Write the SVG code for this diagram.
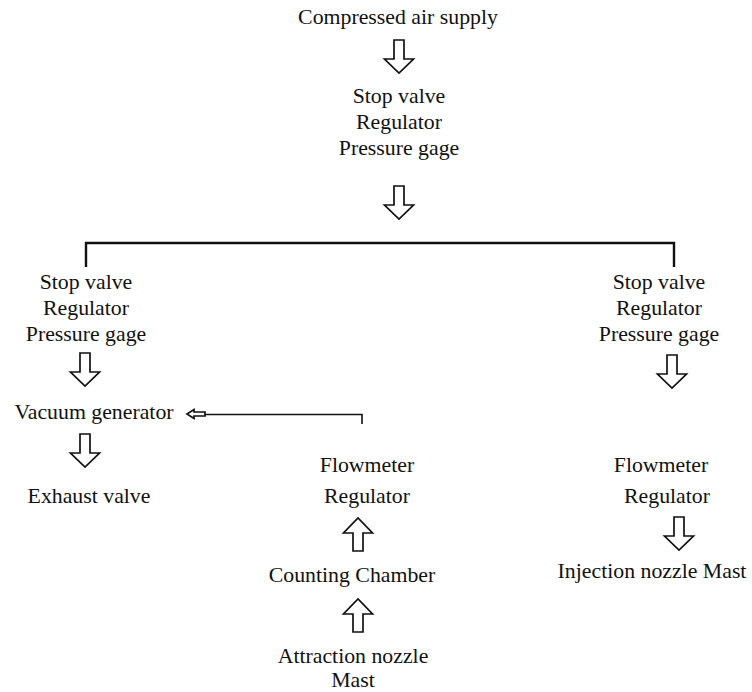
<svg xmlns="http://www.w3.org/2000/svg" width="752" height="692" viewBox="0 0 752 692">
  <style>
    text { font-family: "Liberation Serif", "Times New Roman", serif; font-size: 21.8px; fill: #111; text-anchor: middle; }
    .blk { fill: #fff; stroke: #111; stroke-width: 1.7; stroke-linejoin: miter; }
    .ln { fill: none; stroke: #111; stroke-width: 1.6; }
    .br { fill: none; stroke: #111; stroke-width: 2.4; }
  </style>
  <defs>
    <!-- hollow block arrow pointing down, origin at top centre -->
    <path id="down" class="blk" d="M -5 0 L 5 0 L 5 19 L 14.5 19 L 0 33 L -14.5 19 L -5 19 Z"/>
    <!-- hollow block arrow pointing up, origin at bottom centre -->
    <path id="up" class="blk" d="M -5 0 L 5 0 L 5 -18 L 14.5 -18 L 0 -33 L -14.5 -18 L -5 -18 Z"/>
  </defs>

  <g id="air-supply"><text x="398" y="24">Compressed air supply</text></g>
  <g id="main-valves">
    <text x="399" y="103">Stop valve</text>
    <text x="399" y="129">Regulator</text>
    <text x="399" y="155">Pressure gage</text>
  </g>
  <g id="left-valves">
    <text x="86" y="289">Stop valve</text>
    <text x="86" y="315">Regulator</text>
    <text x="86" y="341">Pressure gage</text>
  </g>
  <g id="right-valves">
    <text x="659" y="289">Stop valve</text>
    <text x="659" y="315">Regulator</text>
    <text x="659" y="341">Pressure gage</text>
  </g>
  <g id="vacuum-generator"><text x="94" y="419">Vacuum generator</text></g>
  <g id="exhaust-valve"><text x="89" y="503">Exhaust valve</text></g>
  <g id="mid-flowmeter">
    <text x="367" y="472">Flowmeter</text>
    <text x="367" y="503">Regulator</text>
  </g>
  <g id="counting-chamber"><text x="352" y="582">Counting Chamber</text></g>
  <g id="attraction-nozzle">
    <text x="353" y="663">Attraction nozzle</text>
    <text x="353" y="687">Mast</text>
  </g>
  <g id="right-flowmeter">
    <text x="661" y="472">Flowmeter</text>
    <text x="667" y="503">Regulator</text>
  </g>
  <g id="injection-nozzle"><text x="652" y="578">Injection nozzle Mast</text></g>

  <g id="connectors">
    <use href="#down" x="399" y="40"/>
    <use href="#down" x="399" y="186"/>
    <!-- distribution bracket -->
    <path class="br" d="M 86 267 L 86 243 L 674 243 L 674 267"/>
    <use href="#down" x="85" y="353"/>
    <use href="#down" x="672" y="355"/>
    <use href="#down" x="85" y="434"/>
    <use href="#up" x="358" y="551"/>
    <use href="#up" x="358" y="632"/>
    <use href="#down" x="679" y="517"/>
    <!-- return line into the vacuum generator -->
    <path class="blk" d="M 187 414 L 194 409.5 L 194 412 L 205 412 L 205 416 L 194 416 L 194 418.5 Z"/>
    <path class="ln" d="M 205 414.5 L 362 414.5 L 362 424"/>
  </g>
</svg>
